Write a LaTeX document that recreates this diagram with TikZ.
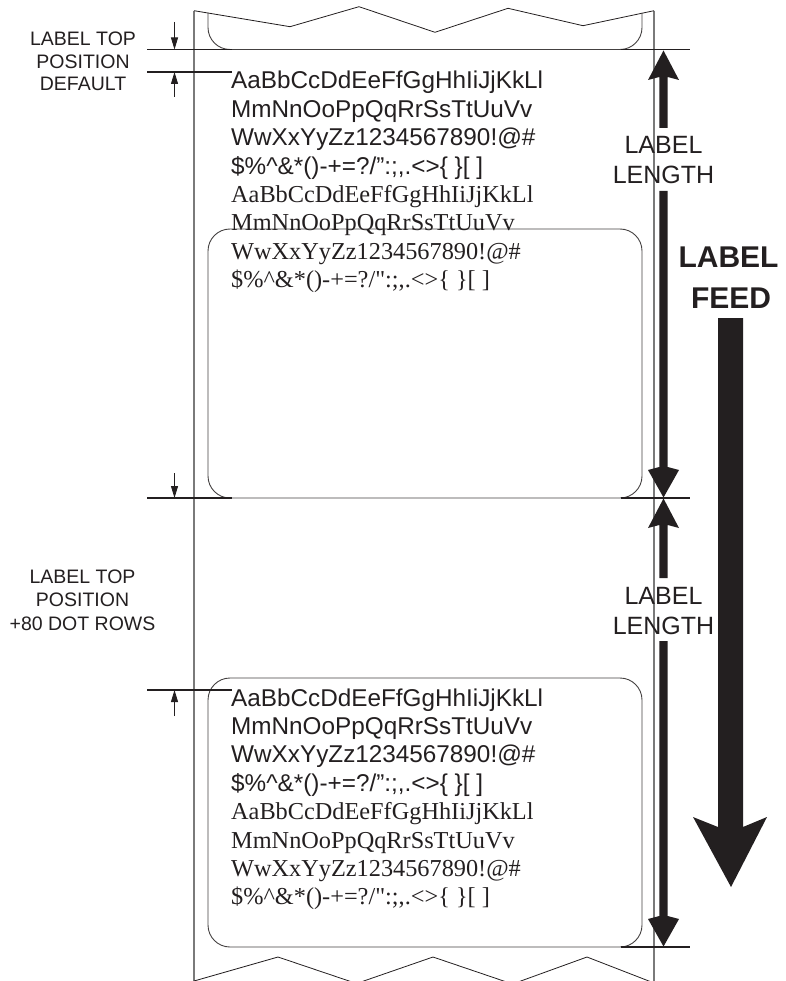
\documentclass[tikz,border=0pt]{standalone}
\usepackage{fontspec}
\setmainfont{Liberation Sans}
\newfontfamily\labserif{Liberation Serif}
\usetikzlibrary{arrows.meta}
\definecolor{ink}{HTML}{231F20}
\definecolor{edgegray}{HTML}{7A7A7A}
\begin{document}
\begin{tikzpicture}[x=1pt,y=-1pt,
  paperedge/.style={draw=edgegray,line width=1.1pt},
  zig/.style={draw=ink,line width=0.8pt,line join=miter},
  labelbox/.style={draw=ink!85,line width=0.9pt,rounded corners=22pt},
  tickline/.style={draw=ink,line width=1.5pt},
  smallarrow/.style={draw=ink,line width=0.9pt,-{Triangle[length=12pt,width=7pt]}},
  sans/.style={inner sep=0pt,anchor=base west,text=ink,font=\fontsize{24.3}{28}\selectfont},
  serifrow/.style={inner sep=0pt,anchor=base west,text=ink,font=\labserif\fontsize{24.3}{28}\selectfont},
  sidetext/.style={inner sep=0pt,anchor=base,text=ink,font=\fontsize{19.5}{23}\selectfont},
  dimtext/.style={inner sep=0pt,anchor=base,text=ink,font=\fontsize{25}{30}\selectfont},
  feedtext/.style={inner sep=0pt,anchor=base,text=ink,font=\bfseries\fontsize{30}{40}\selectfont}]
\useasboundingbox (0,0) rectangle (785,981);
\begin{scope}
\clip (0,0) rectangle (785,981);
% paper edges
\draw[paperedge] (194,10.7) -- (194,981);
\draw[paperedge] (654,10.7) -- (654,981);
% torn ends of the liner
\draw[zig] (194,10.7) -- (290,26.7) -- (359,6.7) -- (435,32.3) -- (508,8.3) -- (583,25.7) -- (654,10.7);
\draw[zig] (194,981) -- (278,957) -- (356.5,983.5) -- (433,957) -- (512.5,984) -- (587,957) -- (654,983);
% labels
\draw[labelbox] (208,13) -- (208,49.5) -- (642,49.5) -- (642,13);
\draw[labelbox] (208,229) rectangle (642,498);
\draw[labelbox] (208,678) rectangle (642,947);
\end{scope}
% left tick lines and arrows
\draw[tickline] (147,49.5) -- (232,49.5);
\draw[tickline] (147,72) -- (232,72);
\draw[tickline] (147,498) -- (232,498);
\draw[tickline] (147,690) -- (232,690);
\coordinate (a1s) at (174.5,22);   \coordinate (a1e) at (174.5,49.5);
\coordinate (a2s) at (174.5,97);   \coordinate (a2e) at (174.5,72);
\coordinate (a3s) at (174.5,473);  \coordinate (a3e) at (174.5,498);
\coordinate (a4s) at (174.5,716);  \coordinate (a4e) at (174.5,690);
\draw[smallarrow] (a1s) -- (a1e);
\draw[smallarrow] (a2s) -- (a2e);
\draw[smallarrow] (a3s) -- (a3e);
\draw[smallarrow] (a4s) -- (a4e);
% right tick lines
\draw[tickline] (621,49.5) -- (690,49.5);
\draw[tickline] (621,498) -- (690,498);
\draw[tickline] (621,947) -- (690,947);
% label length arrows
\fill[ink] (663.5,50.5) -- (679,80) -- (667.7,77) -- (667.7,128) -- (659.3,128) -- (659.3,77) -- (648,80) -- cycle;
\fill[ink] (659.3,191) -- (667.7,191) -- (667.7,467) -- (679,470) -- (663.5,497.5) -- (648,470) -- (659.3,467) -- cycle;
\fill[ink] (663.5,498.5) -- (679,528) -- (667.7,525) -- (667.7,578) -- (659.3,578) -- (659.3,525) -- (648,528) -- cycle;
\fill[ink] (659.3,641) -- (667.7,641) -- (667.7,916) -- (679,919) -- (663.5,946.5) -- (648,919) -- (659.3,916) -- cycle;
% label feed arrow
\fill[ink] (718,318) -- (743,318) -- (743,827) -- (767,817) -- (731,887) -- (693,817) -- (718,827) -- cycle;
% left texts
\node[sidetext] (d1) at (83,46) {LABEL TOP};
\node[sidetext] (d2) at (83,69) {POSITION};
\node[sidetext] (d3) at (83,91) {DEFAULT};
\node[sidetext] (p1) at (82.5,583) {LABEL TOP};
\node[sidetext] (p2) at (82.5,606) {POSITION};
\node[sidetext] (p3) at (82.5,630) {+80 DOT ROWS};
% right texts
\node[dimtext] (l1a) at (663.5,154) {LABEL};
\node[dimtext] (l1b) at (663.5,184) {LENGTH};
\node[dimtext] (l2a) at (663.5,604) {LABEL};
\node[dimtext] (l2b) at (663.5,634) {LENGTH};
\node[feedtext] (f1) at (728.5,268) {LABEL};
\node[feedtext] (f2) at (731,308) {FEED};
% sample text, first label
\node[sans] (t1) at (231,89) {AaBbCcDdEeFfGgHhIiJjKkLl};
\node[sans] (t2) at (231,117.4) {MmNnOoPpQqRrSsTtUuVv};
\node[sans] (t3) at (231,145.8) {WwXxYyZz1234567890!@\#};
\node[sans] (t4) at (231,174.2) {\$\%\textasciicircum\&*()-+=?/":;,.<>\{ \}[ ]};
\node[serifrow] (t5) at (231,202.6) {AaBbCcDdEeFfGgHhIiJjKkLl};
\node[serifrow] (t6) at (231,231) {MmNnOoPpQqRrSsTtUuVv};
\node[serifrow] (t7) at (231,259.4) {WwXxYyZz1234567890!@\#};
\node[serifrow] (t8) at (231,287.8) {\$\%\textasciicircum\&*()-+=?/":;,.<>\{ \}[ ]};
% sample text, shifted label
\node[sans] (u1) at (231,706) {AaBbCcDdEeFfGgHhIiJjKkLl};
\node[sans] (u2) at (231,734.4) {MmNnOoPpQqRrSsTtUuVv};
\node[sans] (u3) at (231,762.8) {WwXxYyZz1234567890!@\#};
\node[sans] (u4) at (231,791.2) {\$\%\textasciicircum\&*()-+=?/":;,.<>\{ \}[ ]};
\node[serifrow] (u5) at (231,819.6) {AaBbCcDdEeFfGgHhIiJjKkLl};
\node[serifrow] (u6) at (231,848) {MmNnOoPpQqRrSsTtUuVv};
\node[serifrow] (u7) at (231,876.4) {WwXxYyZz1234567890!@\#};
\node[serifrow] (u8) at (231,904.8) {\$\%\textasciicircum\&*()-+=?/":;,.<>\{ \}[ ]};
\end{tikzpicture}
\end{document}
